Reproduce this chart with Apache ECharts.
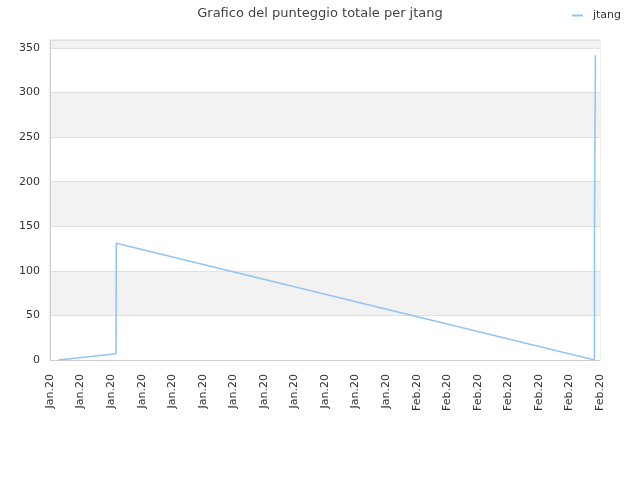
<!DOCTYPE html>
<html>
<head>
<meta charset="utf-8">
<script src="https://cdn.jsdelivr.net/npm/echarts@6/dist/echarts.min.js"></script>
<style>html,body{margin:0;padding:0;background:#fff}#c{width:640px;height:480px}</style>
</head>
<body>
<div id="c"></div>
<script>
const tickLabels = ['Jan.20','Jan.20','Jan.20','Jan.20','Jan.20','Jan.20','Jan.20','Jan.20','Jan.20','Jan.20','Jan.20','Jan.20','Feb.20','Feb.20','Feb.20','Feb.20','Feb.20','Feb.20','Feb.20'];
const xPos = [0.28, 2.16, 2.17, 17.82, 17.82, 17.85, 17.85];
const scores = [0, 7, 131, 0, 151, 151, 342];
const seriesName = 'jtang';

const chart = echarts.init(document.getElementById('c'));
chart.setOption({
  animation: false,
  textStyle: {fontFamily: 'DejaVu Sans'},
  title: {
    text: 'Grafico del punteggio totale per jtang',
    left: 'center', top: 2,
    textStyle: {fontSize: 13, fontWeight: 'normal', color: '#444', fontFamily: 'DejaVu Sans'}
  },
  legend: {
    right: 14, top: 5,
    data: [{name: seriesName, icon: 'rect'}],
    itemWidth: 11, itemHeight: 2, itemGap: 6,
    textStyle: {fontSize: 11, color: '#333', fontFamily: 'DejaVu Sans', padding: [0, 0, 0, 5]}
  },
  grid: {left: 50, right: 40, top: 40, bottom: 120, show: true, borderColor: '#dcdcdc', borderWidth: 1},
  xAxis: {
    type: 'value', min: 0, max: tickLabels.length - 1, interval: 1,
    axisLine: {show: true, lineStyle: {color: '#d0d0d0'}},
    axisTick: {show: false},
    splitLine: {show: false},
    axisLabel: {
      rotate: 90, fontSize: 11, color: '#333', margin: 14,
      formatter: v => tickLabels[Math.round(v)] || ''
    }
  },
  yAxis: {
    type: 'value', min: 0, max: 359, interval: 50,
    axisLine: {show: true, lineStyle: {color: '#d0d0d0'}},
    axisTick: {show: false},
    axisLabel: {fontSize: 11, color: '#333', showMaxLabel: false, margin: 10},
    splitLine: {show: true, lineStyle: {color: '#e0e0e0'}},
    splitArea: {show: true, areaStyle: {color: ['#ffffff', '#f2f2f2']}}
  },
  series: [{
    name: seriesName, type: 'line',
    data: xPos.map((x, i) => [x, scores[i]]),
    showSymbol: false, symbol: 'none',
    lineStyle: {color: '#94c4f4', width: 1.6},
    itemStyle: {color: '#94c4f4'}
  }]
});
</script>
</body>
</html>
